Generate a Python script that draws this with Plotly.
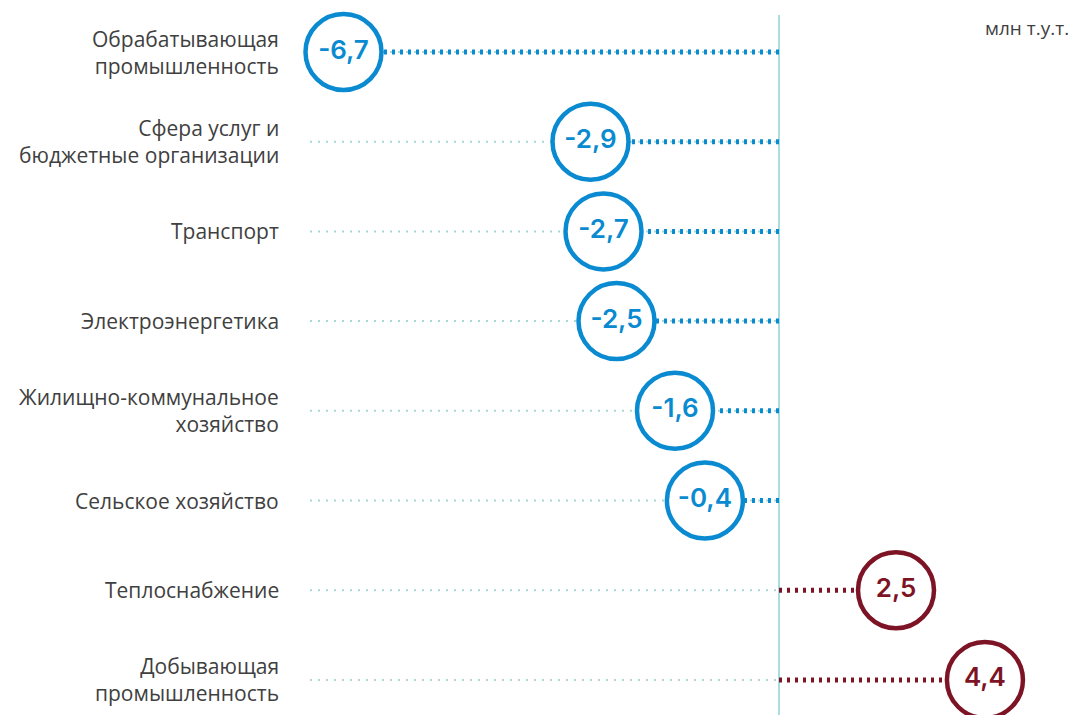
import plotly.graph_objects as go

categories = [
    "Обрабатывающая<br>промышленность",
    "Сфера услуг и<br>бюджетные организации",
    "Транспорт",
    "Электроэнергетика",
    "Жилищно-коммунальное<br>хозяйство",
    "Сельское хозяйство",
    "Теплоснабжение",
    "Добывающая<br>промышленность",
]
values = [-6.7, -2.9, -2.7, -2.5, -1.6, -0.4, 2.5, 4.4]
value_labels = ["-6,7", "-2,9", "-2,7", "-2,5", "-1,6", "-0,4", "2,5", "4,4"]
unit_label = "млн т.у.т."

BLUE = "#0a8ad0"
RED = "#7d1426"
LIGHT = "#a6d9d6"
ZERO = "#a9dde2"
TEXT = "#404040"

W, H = 1073, 715
PX_PER_UNIT = 65.0          # negative side scale
ZERO_PX = 779.0
POS_FACTOR = 0.72           # compressed scale on the positive side
MIN_OFFSET = 1.14           # keep circles clear of the zero line


def display_x(v):
    if v < 0:
        return min(v, -MIN_OFFSET)
    return max(v * POS_FACTOR, MIN_OFFSET)


x_min = -ZERO_PX / PX_PER_UNIT
x_max = (W - ZERO_PX) / PX_PER_UNIT
track_start = (310 - ZERO_PX) / PX_PER_UNIT

rows = list(range(len(categories)))
row_px = 89.7
y_top = -52 / row_px
y_bot = (len(categories) - 1) + (H - 52 - row_px * (len(categories) - 1)) / row_px

fig = go.Figure()

# light background tracks
for i, v in enumerate(values):
    fig.add_trace(go.Scatter(
        x=[track_start, 0], y=[i, i], mode="lines",
        line=dict(color=LIGHT, width=2, dash="2px,6px"),
        hoverinfo="skip", showlegend=False))

# dark connectors from zero to circle
for i, v in enumerate(values):
    c = BLUE if v < 0 else RED
    fig.add_trace(go.Scatter(
        x=[0, display_x(v)], y=[i, i], mode="lines",
        line=dict(color=c, width=5, dash="3px,5px"),
        hoverinfo="skip", showlegend=False))

# circles with values
colors = [BLUE if v < 0 else RED for v in values]
fig.add_trace(go.Scatter(
    x=[display_x(v) for v in values], y=rows, mode="markers+text",
    marker=dict(size=76, color="white", line=dict(color=colors, width=4.5)),
    text=value_labels,
    textposition="middle center",
    textfont=dict(family="Inter, Noto Sans, sans-serif", size=26, weight=600, color=colors),
    hoverinfo="skip", showlegend=False, cliponaxis=False))

# zero line
fig.add_shape(type="line", xref="x", yref="paper", x0=0, x1=0,
              y0=0, y1=1 - 15 / H, line=dict(color=ZERO, width=2), layer="below")

# category labels
for i, cat in enumerate(categories):
    fig.add_annotation(x=281 / W, xref="paper", y=i, yref="y", text=cat,
                       xanchor="right", yanchor="middle", align="right",
                       showarrow=False,
                       font=dict(family="Open Sans, sans-serif", size=21, color=TEXT))

fig.add_annotation(x=1071 / W, xref="paper", y=1 - 28 / H, yref="paper",
                   text=unit_label, xanchor="right", yanchor="middle",
                   showarrow=False,
                   font=dict(family="Open Sans, sans-serif", size=19, color=TEXT))

fig.update_layout(
    width=W, height=H,
    margin=dict(l=0, r=0, t=0, b=0),
    plot_bgcolor="white", paper_bgcolor="white",
    xaxis=dict(range=[x_min, x_max], visible=False, fixedrange=True),
    yaxis=dict(range=[y_bot, y_top], visible=False, fixedrange=True),
)

fig.write_html(
    "out.html",
    config={"displayModeBar": False},
    post_script="document.body.style.margin='0';document.body.style.overflow='hidden';",
)
